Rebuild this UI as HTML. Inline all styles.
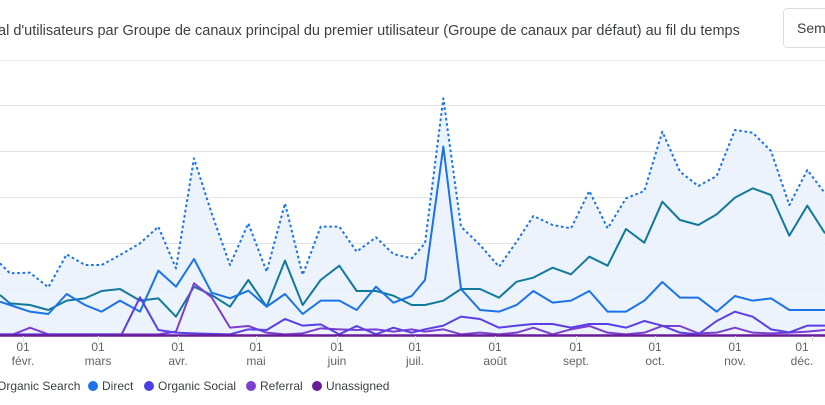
<!DOCTYPE html>
<html><head><meta charset="utf-8"><style>
body{margin:0;width:825px;height:405px;overflow:hidden;background:#fff;font-family:"Liberation Sans",Roboto,sans-serif;}
</style></head><body>
<svg width="825" height="405" viewBox="0 0 825 405" xmlns="http://www.w3.org/2000/svg" style="position:absolute;left:0;top:0">
<text x="-2" y="35" font-size="14.5" fill="#3c4043" font-family="Liberation Sans, sans-serif">al d'utilisateurs par Groupe de canaux principal du premier utilisateur (Groupe de canaux par défaut) au fil du temps</text>
<rect x="783.5" y="8.5" width="60" height="39" rx="4" fill="#fff" stroke="#dadce0"/>
<text x="797" y="33" font-size="14" fill="#3c4043">Sem</text>
<line x1="0" y1="60.5" x2="825" y2="60.5" stroke="#e8eaed"/>
<g stroke="#e3e3e3" stroke-width="1">
<line x1="0" y1="105.5" x2="825" y2="105.5"/><line x1="0" y1="151.5" x2="825" y2="151.5"/>
<line x1="0" y1="197.5" x2="825" y2="197.5"/><line x1="0" y1="243.5" x2="825" y2="243.5"/>
<line x1="0" y1="289.5" x2="825" y2="289.5"/>
</g>
<g transform="translate(0,90) scale(0.33333)" fill="none" stroke-linejoin="round">
<polygon fill="#e8f0fd" fill-opacity="0.8" stroke="none" points="0,520 30,550 90,548 145,592 200,493 255,525 305,525 360,495 420,460 475,410 528,535 582,205 635,370 690,525 745,400 800,545 855,340 908,555 962,410 1018,410 1070,485 1128,442 1180,492 1235,505 1275,460 1330,25 1383,410 1440,465 1497,530 1550,455 1600,378 1658,405 1713,415 1768,303 1823,415 1878,325 1933,303 1987,125 2040,245 2095,288 2150,258 2205,120 2258,128 2313,183 2368,345 2422,240 2475,310 2475,735 0,735"/>
<polyline stroke="#1a73e8" stroke-width="6" stroke-dasharray="8,8" points="0,520 30,550 90,548 145,592 200,493 255,525 305,525 360,495 420,460 475,410 528,535 582,205 635,370 690,525 745,400 800,545 855,340 908,555 962,410 1018,410 1070,485 1128,442 1180,492 1235,505 1275,460 1330,25 1383,410 1440,465 1497,530 1550,455 1600,378 1658,405 1713,415 1768,303 1823,415 1878,325 1933,303 1987,125 2040,245 2095,288 2150,258 2205,120 2258,128 2313,183 2368,345 2422,240 2475,310"/>
<polyline stroke="#12799b" stroke-width="6" points="0,615 30,640 90,645 145,660 200,632 255,625 305,603 360,597 420,632 475,625 528,680 582,590 635,615 690,650 745,570 800,650 855,512 908,645 962,570 1018,527 1070,603 1128,603 1180,617 1235,645 1260,645 1275,645 1330,632 1383,597 1440,597 1497,623 1550,575 1600,563 1658,533 1713,553 1768,500 1823,527 1878,417 1933,458 1987,335 2040,390 2095,405 2150,373 2205,323 2258,295 2313,315 2368,437 2422,347 2475,430"/>
<polyline stroke="#1a73e8" stroke-width="6" points="0,635 30,645 90,665 145,672 200,612 255,645 305,665 360,632 420,665 475,542 528,590 582,507 635,608 690,625 745,602 800,650 855,612 908,672 962,632 1018,632 1070,660 1128,590 1180,638 1235,618 1275,570 1330,170 1383,597 1440,660 1497,665 1550,645 1600,603 1658,638 1713,632 1768,603 1823,665 1878,665 1933,632 1987,576 2040,623 2095,623 2150,665 2205,618 2258,632 2313,625 2368,660 2475,660"/>
<polyline stroke="#7b3fd0" stroke-width="6" points="0,733 40,733 90,713 145,733 475,733 528,725 582,580 635,622 690,713 745,708 800,728 855,733 908,730 962,715 1018,718 1070,720 1128,718 1180,725 1235,718 1275,725 1330,718 1383,733 1440,728 1497,733 1550,728 1600,713 1658,733 1713,718 1768,708 1823,728 1878,733 1933,728 1987,708 2040,708 2095,730 2150,728 2205,713 2258,728 2313,730 2368,728 2422,725 2475,720"/>
<polyline stroke="#5a3fe6" stroke-width="6" points="0,733 365,733 420,622 475,720 528,728 582,730 690,733 745,718 800,720 855,687 908,707 962,703 1018,733 1070,708 1128,733 1180,713 1235,728 1275,718 1330,707 1383,680 1440,687 1497,713 1550,707 1600,702 1658,702 1713,713 1768,702 1823,702 1878,713 1933,693 1987,707 2040,728 2095,733 2150,693 2205,665 2258,680 2313,718 2368,727 2422,707 2475,707"/>
</g>
<line x1="0" y1="335.5" x2="825" y2="335.5" stroke="#6a1b9a" stroke-width="2.5"/>
<g stroke="#dadce0"><line x1="23.5" y1="336" x2="23.5" y2="342"/><line x1="98.5" y1="336" x2="98.5" y2="342"/><line x1="178.5" y1="336" x2="178.5" y2="342"/><line x1="256.5" y1="336" x2="256.5" y2="342"/><line x1="337.5" y1="336" x2="337.5" y2="342"/><line x1="415.5" y1="336" x2="415.5" y2="342"/><line x1="495.5" y1="336" x2="495.5" y2="342"/><line x1="576.5" y1="336" x2="576.5" y2="342"/><line x1="655.5" y1="336" x2="655.5" y2="342"/><line x1="735.5" y1="336" x2="735.5" y2="342"/><line x1="812.5" y1="336" x2="812.5" y2="342"/></g>
<g font-size="12" fill="#5f6368" text-anchor="middle">
<text x="23" y="351">01</text><text x="23" y="365">févr.</text>
<text x="98" y="351">01</text><text x="98" y="365">mars</text>
<text x="178" y="351">01</text><text x="178" y="365">avr.</text>
<text x="256" y="351">01</text><text x="256" y="365">mai</text>
<text x="337" y="351">01</text><text x="337" y="365">juin</text>
<text x="415" y="351">01</text><text x="415" y="365">juil.</text>
<text x="495" y="351">01</text><text x="495" y="365">août</text>
<text x="576" y="351">01</text><text x="576" y="365">sept.</text>
<text x="655" y="351">01</text><text x="655" y="365">oct.</text>
<text x="735" y="351">01</text><text x="735" y="365">nov.</text>
<text x="802" y="351">01</text><text x="802" y="365">déc.</text>
</g>
<g font-size="12" fill="#3c4043">
<text x="-3" y="390">Organic Search</text>
<circle cx="93" cy="386" r="5" fill="#1a73e8"/><text x="102" y="390">Direct</text>
<circle cx="149" cy="386" r="5" fill="#4a3fe6"/><text x="158" y="390">Organic Social</text>
<circle cx="251" cy="386" r="5" fill="#7b3fd0"/><text x="260" y="390">Referral</text>
<circle cx="317" cy="386" r="5" fill="#6a1b9a"/><text x="326" y="390">Unassigned</text>
</g>
</svg>
</body></html>
